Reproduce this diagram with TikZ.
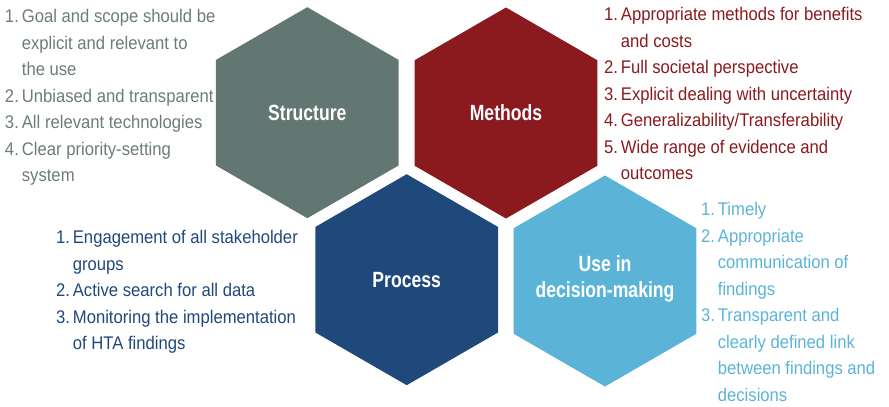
\documentclass[tikz,border=0pt]{standalone}
\usepackage{fontspec}
\setmainfont{Liberation Sans}[FakeStretch=0.91]
\newfontfamily\hexfont{Liberation Sans}[FakeStretch=0.80]
\usetikzlibrary{shapes.geometric}
\definecolor{cgray}{HTML}{627672}
\definecolor{cred}{HTML}{8A1A1E}
\definecolor{cblue}{HTML}{1F487B}
\definecolor{clight}{HTML}{5BB4D7}
\definecolor{tgray}{HTML}{6A7D79}
\tikzset{
  hex/.style={regular polygon, regular polygon sides=6, regular polygon rotate=30,
    minimum size=211pt, inner sep=0pt, outer sep=0pt, draw=none},
  hextext/.style={text=white, inner sep=0pt,
    font=\hexfont\bfseries\fontsize{22}{26}\selectfont, align=center},
  listbox/.style={anchor=north west, inner sep=0pt, outer sep=0pt,
    font=\fontsize{18.3}{26.5}\selectfont}
}
\begin{document}
\begin{tikzpicture}[x=1pt,y=-1pt]
\useasboundingbox (0,0) rectangle (889,407);
\node[hex, fill=cgray] (s) at (307.3,112.7) {};
\node[hex, fill=cred] (m) at (506,113) {};
\node[hex, fill=cblue] (p) at (406.7,279.7) {};
\node[hex, fill=clight] (u) at (605,281) {};
\node[hextext] (st) at (s.center) {Structure};
\node[hextext] (mt) at (m.center) {Methods};
\node[hextext] (pt) at (p.center) {Process};
\node[hextext] (ut) at ([yshift=2pt]u.center) {Use in\\decision-making};

\node[listbox, text=tgray] (sl) at (5,4) {\begin{tabular}{@{}l@{\hspace{3pt}}l@{}}
1. & Goal and scope should be\\
 & explicit and relevant to\\
 & the use\\
2. & Unbiased and transparent\\
3. & All relevant technologies\\
4. & Clear priority-setting\\
 & system
\end{tabular}};

\node[listbox, text=cred] (ml) at (604,2) {\begin{tabular}{@{}l@{\hspace{3pt}}l@{}}
1. & Appropriate methods for benefits\\
 & and costs\\
2. & Full societal perspective\\
3. & Explicit dealing with uncertainty\\
4. & Generalizability/Transferability\\
5. & Wide range of evidence and\\
 & outcomes
\end{tabular}};

\node[listbox, text=cblue] (pl) at (56,225) {\begin{tabular}{@{}l@{\hspace{3pt}}l@{}}
1. & Engagement of all stakeholder\\
 & groups\\
2. & Active search for all data\\
3. & Monitoring the implementation\\
 & of HTA findings
\end{tabular}};

\node[listbox, text=clight] (ul) at (701,197) {\begin{tabular}{@{}l@{\hspace{3pt}}l@{}}
1. & Timely\\
2. & Appropriate\\
 & communication of\\
 & findings\\
3. & Transparent and\\
 & clearly defined link\\
 & between findings and\\
 & decisions
\end{tabular}};
\end{tikzpicture}
\end{document}
